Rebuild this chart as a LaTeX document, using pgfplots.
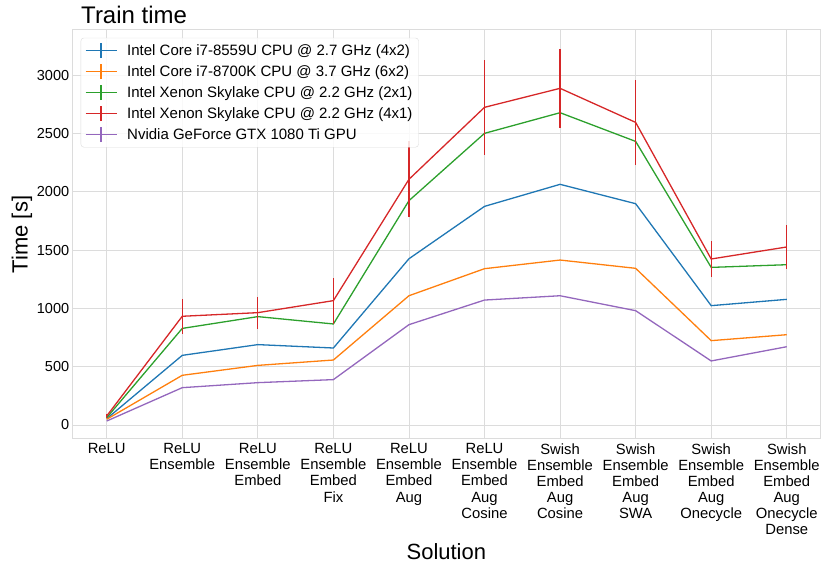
\documentclass[border=0pt]{standalone}
\usepackage{fontspec}
\setmainfont{Liberation Sans}
\usepackage{pgfplots}
\pgfplotsset{compat=1.18}
\definecolor{tblue}{HTML}{1F77B4}
\definecolor{torange}{HTML}{FF7F0E}
\definecolor{tgreen}{HTML}{2CA02C}
\definecolor{tred}{HTML}{D62728}
\definecolor{tpurple}{HTML}{9467BD}
\definecolor{gridc}{HTML}{DCDCDC}
\begin{document}
\begin{tikzpicture}
\path[use as bounding box] (0,0) rectangle (831pt,572pt);
\begin{axis}[
  at={(72.7pt,133pt)}, anchor=south west,
  scale only axis, width=747.3pt, height=409pt,
  xmin=-0.45, xmax=9.44, ymin=-120, ymax=3386,
  xtick={0,...,9},
  xticklabels={{ReLU},{ReLU\\Ensemble},{ReLU\\Ensemble\\Embed},{ReLU\\Ensemble\\Embed\\Fix},{ReLU\\Ensemble\\Embed\\Aug},{ReLU\\Ensemble\\Embed\\Aug\\Cosine},{Swish\\Ensemble\\Embed\\Aug\\Cosine},{Swish\\Ensemble\\Embed\\Aug\\SWA},{Swish\\Ensemble\\Embed\\Aug\\Onecycle},{Swish\\Ensemble\\Embed\\Aug\\Onecycle\\Dense}},
  xticklabel style={align=center, font=\fontsize{14.8}{16.1}\selectfont, yshift=-1pt},
  ytick={0,500,...,3000},
  yticklabel style={font=\fontsize{14.5}{16}\selectfont},
  /pgf/number format/assume math mode=true,
  /pgf/number format/1000 sep={},
  major tick length=0pt,
  grid=major, grid style={gridc, line width=0.9pt},
  axis line style={gridc, line width=1pt},
  xlabel={Solution}, ylabel={Time [s]},
  xlabel style={font=\fontsize{22}{26}\selectfont, at={(axis description cs:0.5,-0.276)}, anchor=center},
  ylabel style={font=\fontsize{22}{26}\selectfont, at={(axis description cs:-0.0678,0.5)}, anchor=center},
  title={Train time},
  title style={font=\fontsize{24}{28}\selectfont, at={(axis description cs:0.0107,1.0147)}, anchor=base west, yshift=-5.5pt, xshift=-3pt},
  legend cell align=left,
  legend style={at={(axis description cs:0.0107,0.981)}, anchor=north west,
    draw=gridc, rounded corners=3pt, fill=white, fill opacity=0.85, text opacity=1,
    font=\fontsize{15}{18}\selectfont, row sep=4.6pt, inner xsep=4pt, inner ysep=4.5pt,
    /tikz/every odd column/.append style={column sep=8pt}},
  legend image code/.code={\draw[#1, line width=1.3pt] (0pt,0pt) -- (31pt,0pt); \draw[#1, line width=1.3pt] (15.5pt,-7.5pt) -- (15.5pt,7.5pt);},
  every axis plot/.append style={line width=1.3pt},
]
\addplot[tblue] coordinates {(0,54)(1,597)(2,689)(3,660)(4,1425)(5,1874)(6,2063)(7,1897)(8,1023)(9,1077)};
\addlegendentry{Intel Core i7-8559U CPU @ 2.7 GHz (4x2)}
\addplot[torange] coordinates {(0,49)(1,426)(2,511)(3,557)(4,1108)(5,1340)(6,1414)(7,1343)(8,723)(9,774)};
\addlegendentry{Intel Core i7-8700K CPU @ 3.7 GHz (6x2)}
\addplot[tgreen] coordinates {(0,63)(1,828)(2,929)(3,866)(4,1923)(5,2500)(6,2677)(7,2431)(8,1351)(9,1374)};
\addlegendentry{Intel Xenon Skylake CPU @ 2.2 GHz (2x1)}
\addplot[tred, error bars/.cd, y dir=both, y explicit, error mark=none, error bar style={line width=1.3pt, tred}] coordinates {
 (0,77) +- (0,15)
 (1,932) +- (0,150)
 (2,963) +- (0,137)
 (3,1066) +- (0,196)
 (4,2106) +- (0,327)
 (5,2723) +- (0,407)
 (6,2886) +- (0,337)
 (7,2594) +- (0,365)
 (8,1423) +- (0,153)
 (9,1526) +- (0,189)};
\addlegendentry{Intel Xenon Skylake CPU @ 2.2 GHz (4x1)}
\addplot[tpurple] coordinates {(0,34)(1,320)(2,363)(3,389)(4,860)(5,1071)(6,1108)(7,980)(8,549)(9,671)};
\addlegendentry{Nvidia GeForce GTX 1080 Ti GPU}
\end{axis}
\end{tikzpicture}
\end{document}
